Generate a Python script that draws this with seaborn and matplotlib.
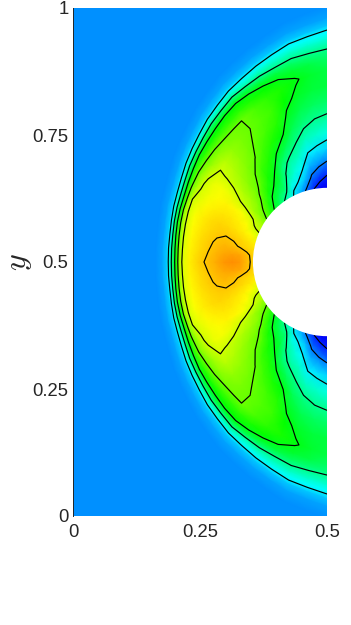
import numpy as np
import pandas as pd
import matplotlib
matplotlib.use("Agg")
import matplotlib.pyplot as plt
from matplotlib.colors import LinearSegmentedColormap
from matplotlib.patches import Ellipse
import seaborn as sns

# ---------------------------
# 1. Values (upper half, the lower half is its mirror)
# ---------------------------
body_radius = 0.146
freestream = 0.266

# angle from the -x direction around the body centre (0.5, 0.5), degrees
angles = [0, 5, 10, 15, 20, 25, 30, 35, 40, 45, 50, 55, 60, 65, 70, 75, 80, 85, 90]
# radius of the outer shock line at each angle
shock_radius = [0.3124, 0.313, 0.314, 0.3169, 0.3209, 0.3248, 0.3307, 0.3386, 0.3465, 0.3553,
                0.3661, 0.376, 0.3878, 0.3976, 0.4094, 0.4213, 0.435, 0.4449, 0.4567]
# position between body (0) and shock line (1)
stations = [0, 0.08, 0.16, 0.25, 0.35, 0.45, 0.55, 0.65, 0.75, 0.82, 0.87, 0.91, 0.95, 0.98, 1.0, 1.03, 1.08, 1.15]

row_00 = [.670, .695, .725, .735, .725, .705, .685, .668, .640, .612, .585, .515, .455, .410, .370, .320, .285, .266]
row_05 = [.668, .690, .712, .715, .710, .695, .677, .660, .636, .610, .583, .515, .455, .410, .370, .320, .285, .266]
row_10 = [.655, .665, .675, .688, .695, .685, .672, .655, .632, .610, .585, .525, .460, .410, .370, .320, .285, .266]
row_15 = [.635, .650, .662, .672, .678, .674, .664, .648, .628, .608, .582, .525, .460, .410, .370, .320, .285, .266]
row_20 = [.610, .625, .640, .652, .662, .665, .657, .642, .622, .605, .575, .515, .450, .405, .370, .320, .285, .266]
row_25 = [.595, .603, .625, .638, .648, .650, .642, .630, .612, .600, .560, .505, .445, .403, .370, .320, .285, .266]
row_30 = [.580, .593, .607, .622, .632, .635, .628, .618, .605, .580, .546, .500, .442, .400, .370, .320, .285, .266]
row_35 = [.552, .568, .580, .592, .603, .615, .620, .615, .595, .565, .535, .490, .440, .400, .370, .320, .285, .266]
row_40 = [.525, .545, .565, .578, .585, .593, .599, .602, .578, .550, .520, .490, .435, .400, .370, .320, .285, .266]
row_45 = [.488, .515, .542, .558, .568, .578, .587, .588, .568, .542, .510, .485, .433, .400, .370, .320, .285, .266]
row_50 = [.460, .483, .510, .540, .553, .563, .572, .572, .558, .530, .503, .480, .430, .400, .370, .320, .285, .266]
row_55 = [.430, .460, .490, .510, .530, .552, .557, .560, .553, .525, .505, .480, .427, .400, .370, .320, .285, .266]
row_60 = [.400, .445, .470, .490, .515, .532, .545, .550, .549, .520, .500, .475, .425, .400, .370, .320, .285, .266]
row_65 = [.345, .390, .425, .445, .488, .515, .532, .540, .535, .510, .490, .460, .410, .385, .370, .320, .285, .266]
row_70 = [.290, .365, .395, .420, .458, .497, .518, .528, .520, .500, .480, .440, .410, .385, .370, .320, .285, .266]
row_75 = [.225, .315, .372, .405, .432, .462, .483, .500, .510, .490, .465, .430, .405, .383, .370, .320, .285, .266]
row_80 = [.160, .235, .300, .365, .410, .440, .463, .482, .494, .475, .450, .425, .400, .380, .370, .320, .285, .266]
row_85 = [.125, .190, .270, .350, .400, .428, .455, .472, .478, .465, .440, .420, .395, .378, .367, .320, .285, .266]
row_90 = [.110, .160, .240, .335, .390, .425, .450, .470, .468, .450, .435, .415, .392, .375, .365, .320, .285, .266]

levels = [0.16, 0.25, 0.365, 0.43, 0.49, 0.55, 0.60, 0.68]

x_ticks = [0, 0.25, 0.5]
x_labels = ["0", "0.25", "0.5"]
y_ticks = [0, 0.25, 0.5, 0.75, 1]
y_labels = ["0", "0.25", "0.5", "0.75", "1"]

# ---------------------------
# 2. Build the body fitted mesh
# ---------------------------
upper = np.array([row_00, row_05, row_10, row_15, row_20, row_25, row_30, row_35, row_40, row_45,
                  row_50, row_55, row_60, row_65, row_70, row_75, row_80, row_85, row_90])
field = np.vstack([upper[:0:-1], upper])

theta = np.radians(np.r_[-np.array(angles[:0:-1]), angles])
shock = np.r_[shock_radius[:0:-1], shock_radius]
frac = np.array(stations)

r = body_radius + np.outer(shock - body_radius, frac)
# the heatmap cell spans 0..1 on x, so x is stretched by 2
X = 2 * (0.5 - r * np.cos(theta)[:, None])
Y = 0.5 + r * np.sin(theta)[:, None]

# rainbow with a pure green in the middle
rainbow = LinearSegmentedColormap.from_list("rainbow_green", [
    (0.0, (0, 0, 0.5)),
    (0.125, (0, 0, 1)),
    (0.375, (0, 1, 1)),
    (0.5, (0, 1, 0)),
    (0.625, (1, 1, 0)),
    (0.875, (1, 0, 0)),
    (1.0, (0.5, 0, 0)),
], N=512)

# ---------------------------
# 3. Plot
# ---------------------------
sns.set_style("white")
plt.rcParams['font.family'] = ['Liberation Sans', 'DejaVu Sans']
plt.rcParams['mathtext.fontset'] = 'cm'

fig = plt.figure(figsize=(3.51, 6.25), dpi=100)
ax = fig.add_axes([73.3 / 351, (625 - 516) / 625, 253.7 / 351, 508 / 625])

base = pd.DataFrame([[freestream]])
sns.heatmap(base, ax=ax, cmap=rainbow, vmin=0, vmax=1, cbar=False,
            xticklabels=False, yticklabels=False)
ax.pcolormesh(X, Y, field, cmap=rainbow, vmin=0, vmax=1, shading="gouraud", zorder=2)
ax.contour(X, Y, field, levels=levels, colors="black", linewidths=0.85, zorder=3)

# white hole for the body, an ellipse because x is stretched
ax.add_patch(Ellipse((1.0, 0.5), 4 * body_radius, 2 * body_radius,
                     facecolor="white", edgecolor="none", zorder=4))

ax.set_xlim(0, 1)
ax.set_ylim(0, 1)
ax.set_xticks([2 * v for v in x_ticks])
ax.set_xticklabels(x_labels, rotation=0)
ax.set_yticks(y_ticks)
ax.set_yticklabels(y_labels, rotation=0)
ax.tick_params(length=0, labelsize=13.3, colors="#262626")
ax.tick_params(axis="x", pad=6)
ax.tick_params(axis="y", pad=3.5)
ax.set_xlabel("")
ax.set_ylabel("$y$", fontsize=23, color="#262626", labelpad=-1)

for side in ["top", "right", "bottom"]:
    ax.spines[side].set_visible(False)
ax.spines["left"].set_visible(True)
ax.spines["left"].set_color("#262626")
ax.spines["left"].set_linewidth(0.7)
ax.spines["left"].set_zorder(5)

plt.savefig("out.png", dpi=100)
plt.close()
